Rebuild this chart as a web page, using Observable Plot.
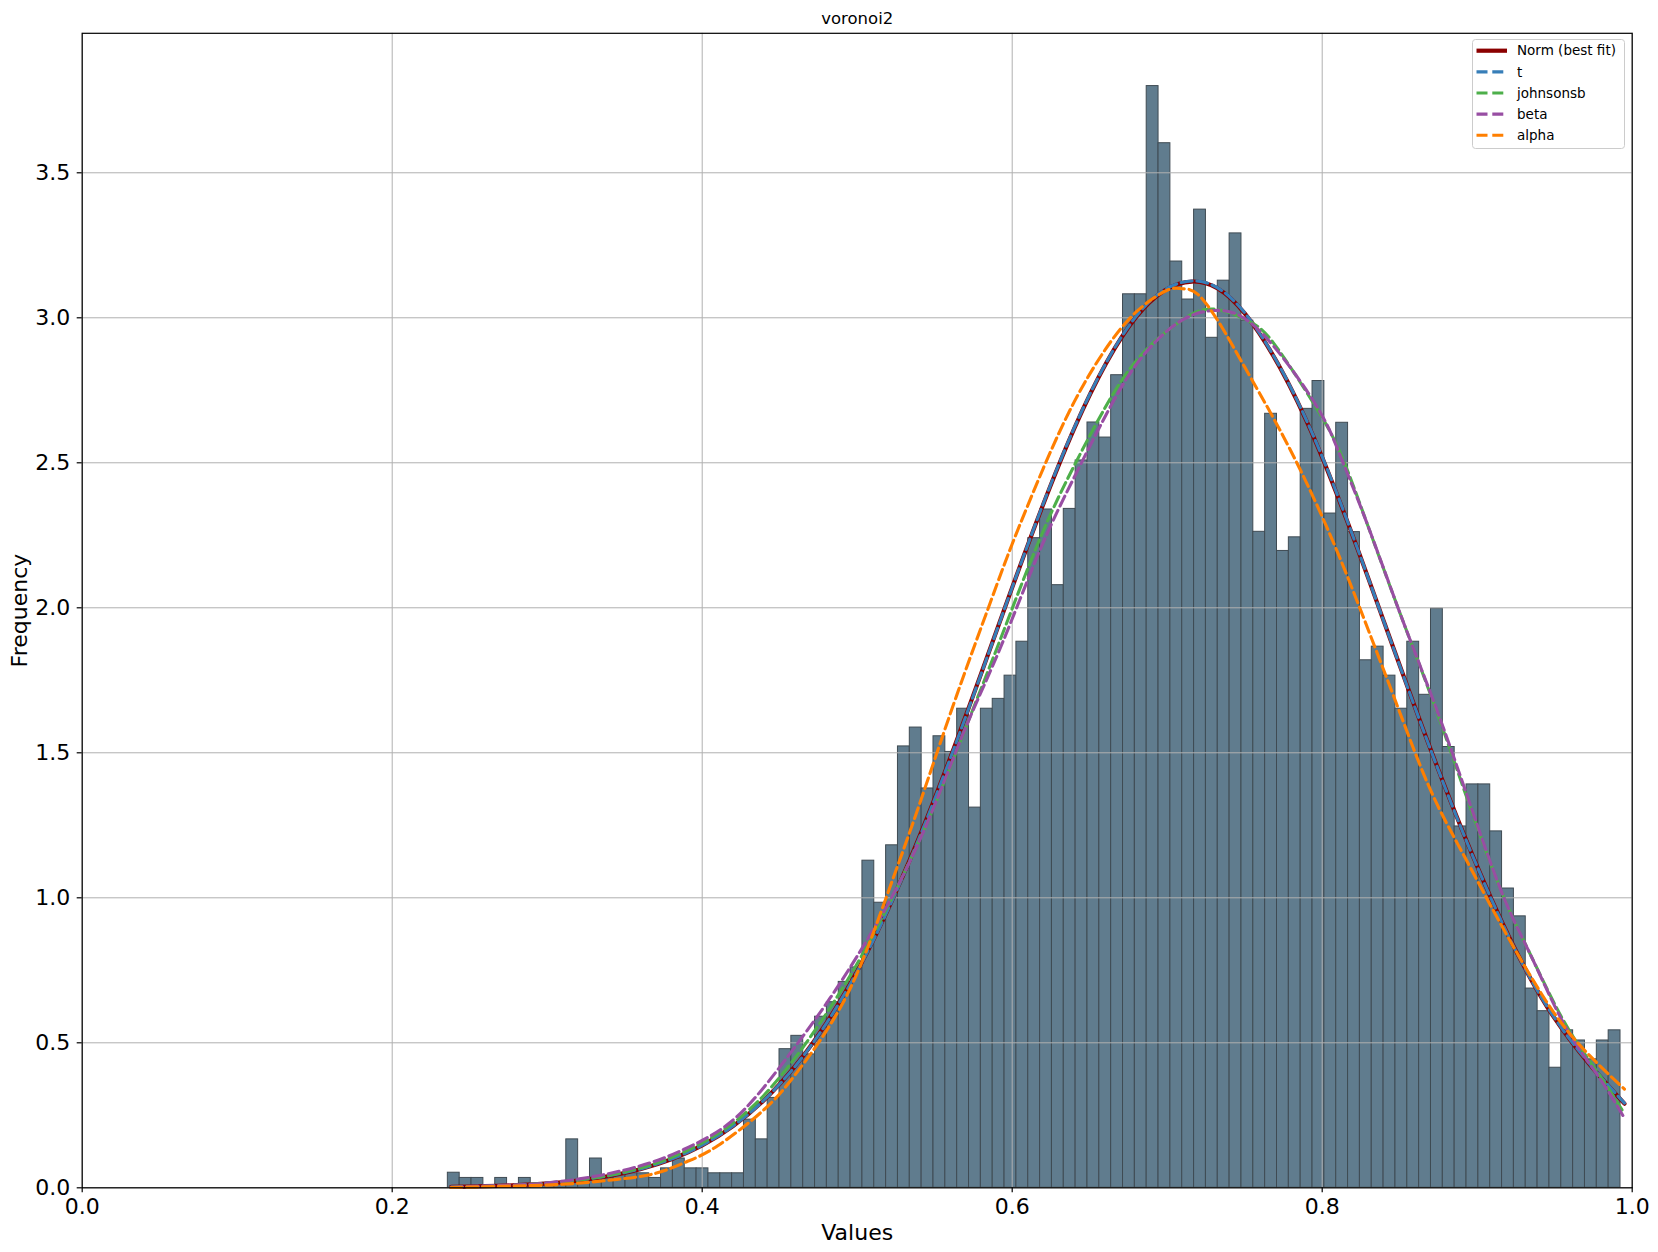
<!DOCTYPE html>
<html>
<head>
<meta charset="utf-8">
<script src="https://cdn.jsdelivr.net/npm/d3@7"></script>
<script src="https://cdn.jsdelivr.net/npm/@observablehq/plot@0.6"></script>
<style>
  html, body { margin: 0; padding: 0; background: white; }
  #wrap { position: relative; width: 1658px; height: 1252px; font-family: "DejaVu Sans", sans-serif; }
  #legend { position: absolute; left: 1472px; top: 39px; }
</style>
</head>
<body>
<div id="wrap"></div>
<script>
// ---------- data ----------
const titleText = "voronoi2";
const xLabel = "Values";
const yLabel = "Frequency";
const xTicks = [0, 0.2, 0.4, 0.6, 0.8, 1.0];
const yTicks = [0, 0.5, 1.0, 1.5, 2.0, 2.5, 3.0, 3.5];

// histogram (density) : 99 equal bins starting at binStart
const binStart = 0.2359;
const binWidth = 0.007642;
const binHeights = [
  0.052, 0.034, 0.034, 0, 0.034, 0, 0.034, 0, 0.017, 0.017,
  0.167, 0.017, 0.101, 0.034, 0.050, 0.050, 0.050, 0.034, 0.067, 0.101,
  0.067, 0.067, 0.050, 0.050, 0.050, 0.235, 0.167, 0.310, 0.478, 0.524,
  0.460, 0.590, 0.640, 0.710, 0.760, 1.128, 0.983, 1.181, 1.522, 1.587,
  1.377, 1.557, 1.503, 1.652, 1.311, 1.652, 1.686, 1.766, 1.883, 2.240,
  2.339, 2.078, 2.341, 2.508, 2.639, 2.587, 2.802, 3.081, 3.081, 3.799,
  3.602, 3.194, 3.063, 3.373, 2.931, 3.128, 3.291, 2.990, 2.262, 2.669,
  2.196, 2.243, 2.686, 2.782, 2.325, 2.638, 2.261, 1.819, 1.866, 1.766,
  1.652, 1.883, 1.700, 1.997, 1.520, 1.246, 1.391, 1.391, 1.229, 1.032,
  0.936, 0.687, 0.609, 0.414, 0.543, 0.508, 0.443, 0.508, 0.543
];

// fitted pdf curves [x, density]
const normPts = [[0.238,0.003],[0.28,0.009],[0.32,0.025],[0.36,0.064],[0.40,0.146],[0.44,0.303],[0.48,0.567],[0.52,0.962],[0.56,1.482],[0.60,2.07],[0.64,2.618],[0.68,3.003],[0.716,3.125],[0.75,3.015],[0.79,2.643],[0.83,2.098],[0.87,1.511],[0.91,0.986],[0.95,0.584],[0.995,0.29]];
const tPts = [[0.238,0.003],[0.28,0.009],[0.32,0.026],[0.36,0.065],[0.40,0.147],[0.44,0.303],[0.48,0.566],[0.52,0.96],[0.56,1.48],[0.60,2.07],[0.64,2.62],[0.68,3.005],[0.716,3.127],[0.75,3.017],[0.79,2.645],[0.83,2.098],[0.87,1.51],[0.91,0.985],[0.95,0.585],[0.995,0.292]];
const johnsonsbPts = [[0.238,0.002],[0.28,0.009],[0.32,0.027],[0.36,0.068],[0.40,0.155],[0.44,0.32],[0.48,0.6],[0.507,0.84],[0.528,1.06],[0.55,1.32],[0.571,1.60],[0.593,1.90],[0.618,2.24],[0.64,2.49],[0.661,2.70],[0.683,2.87],[0.709,2.99],[0.730,3.03],[0.752,2.99],[0.769,2.91],[0.795,2.70],[0.812,2.53],[0.829,2.29],[0.851,1.97],[0.872,1.67],[0.893,1.35],[0.915,1.03],[0.932,0.83],[0.947,0.665],[0.962,0.52],[0.98,0.38],[0.995,0.255]];
const betaPts = [[0.238,0.002],[0.27,0.008],[0.302,0.018],[0.337,0.046],[0.367,0.087],[0.388,0.132],[0.403,0.172],[0.418,0.225],[0.438,0.335],[0.466,0.53],[0.487,0.69],[0.507,0.86],[0.528,1.06],[0.55,1.32],[0.571,1.60],[0.593,1.87],[0.618,2.20],[0.64,2.45],[0.661,2.67],[0.683,2.86],[0.709,2.99],[0.730,3.025],[0.747,3.007],[0.769,2.90],[0.797,2.69],[0.812,2.52],[0.829,2.29],[0.851,1.97],[0.872,1.676],[0.893,1.36],[0.915,1.03],[0.932,0.83],[0.947,0.66],[0.962,0.51],[0.98,0.37],[0.995,0.24]];
const alphaPts = [[0.238,0.001],[0.27,0.005],[0.31,0.012],[0.345,0.029],[0.37,0.05],[0.39,0.09],[0.41,0.145],[0.44,0.27],[0.46,0.39],[0.48,0.54],[0.50,0.74],[0.52,1.02],[0.54,1.32],[0.563,1.68],[0.586,2.02],[0.60,2.22],[0.62,2.48],[0.64,2.71],[0.66,2.89],[0.68,3.02],[0.70,3.095],[0.71,3.10],[0.72,3.08],[0.735,2.97],[0.75,2.83],[0.77,2.64],[0.79,2.43],[0.81,2.19],[0.83,1.92],[0.85,1.64],[0.87,1.37],[0.89,1.16],[0.91,0.96],[0.93,0.77],[0.95,0.60],[0.97,0.47],[0.995,0.34]];

const legendNames = ["Norm (best fit)", "t", "johnsonsb", "beta", "alpha"];
const legendColors = ["#8b0000", "#377eb8", "#4daf4a", "#984ea3", "#ff7f00"];

// ---------- build ----------
const bins = binHeights.map((h, i) => ({x1: binStart + i * binWidth, x2: binStart + (i + 1) * binWidth, y: h}));
const dash = "11,4.8";
const dashW = 3.1;
const fmt = d3.format(".1f");
const lineOpts = (c) => ({x: d => d[0], y: d => d[1], stroke: c, strokeWidth: dashW, strokeDasharray: dash, curve: "natural"});

const chart = Plot.plot({
  width: 1658,
  height: 1252,
  marginLeft: 81.7,
  marginRight: 26.3,
  marginTop: 32.8,
  marginBottom: 64.7,
  x: {domain: [0, 1]},
  y: {domain: [0, 3.981]},
  style: {fontFamily: "DejaVu Sans", background: "white", color: "black"},
  marks: [
    Plot.rectY(bins, {x1: "x1", x2: "x2", y: "y", fill: "#607c8e", stroke: "#3f4b53", strokeWidth: 1}),
    Plot.gridX(xTicks, {stroke: "#b0b0b0", strokeOpacity: 1, strokeWidth: 1}),
    Plot.gridY(yTicks, {stroke: "#b0b0b0", strokeOpacity: 1, strokeWidth: 1}),
    Plot.line(normPts, {x: d => d[0], y: d => d[1], stroke: legendColors[0], strokeWidth: 4.2, curve: "natural"}),
    Plot.line(tPts, lineOpts(legendColors[1])),
    Plot.line(johnsonsbPts, lineOpts(legendColors[2])),
    Plot.line(betaPts, lineOpts(legendColors[3])),
    Plot.line(alphaPts, lineOpts(legendColors[4])),
    Plot.frame({stroke: "black", strokeWidth: 1.2}),
    Plot.axisX(xTicks, {tickSize: 5, tickPadding: 6, fontSize: 22, tickFormat: fmt, label: null, strokeWidth: 1.2}),
    Plot.axisY(yTicks, {tickSize: 5, tickPadding: 7, fontSize: 22, tickFormat: fmt, label: null, strokeWidth: 1.2}),
    Plot.text([xLabel], {frameAnchor: "bottom", lineAnchor: "middle", dy: 45, fontSize: 22, text: d => d}),
    Plot.text([yLabel], {frameAnchor: "left", textAnchor: "middle", lineAnchor: "middle", dx: -62, rotate: -90, fontSize: 22, text: d => d}),
    Plot.text([titleText], {frameAnchor: "top", lineAnchor: "middle", dy: -14.5, fontSize: 16.5, text: d => d})
  ]
});

const wrap = document.getElementById("wrap");
wrap.appendChild(chart);

// legend (matplotlib style box, upper right)
const lw = 152, lh = 109;
const leg = d3.select(wrap).append("svg")
  .attr("id", "legend")
  .attr("width", lw + 2).attr("height", lh + 2)
  .style("font-family", "DejaVu Sans");
leg.append("rect")
  .attr("x", 0.5).attr("y", 0.5).attr("width", lw).attr("height", lh)
  .attr("rx", 3).attr("fill", "white").attr("fill-opacity", 0.8)
  .attr("stroke", "#cccccc").attr("stroke-width", 1);
legendNames.forEach((name, i) => {
  const y = 11.7 + i * 21.15;
  leg.append("line")
    .attr("x1", 4.5).attr("x2", 35).attr("y1", y).attr("y2", y)
    .attr("stroke", legendColors[i])
    .attr("stroke-width", i === 0 ? 4.2 : dashW)
    .attr("stroke-dasharray", i === 0 ? null : dash);
  leg.append("text")
    .attr("x", 45).attr("y", y).attr("dy", "0.35em")
    .attr("font-size", 13.5).attr("fill", "black")
    .text(name);
});
</script>
</body>
</html>
